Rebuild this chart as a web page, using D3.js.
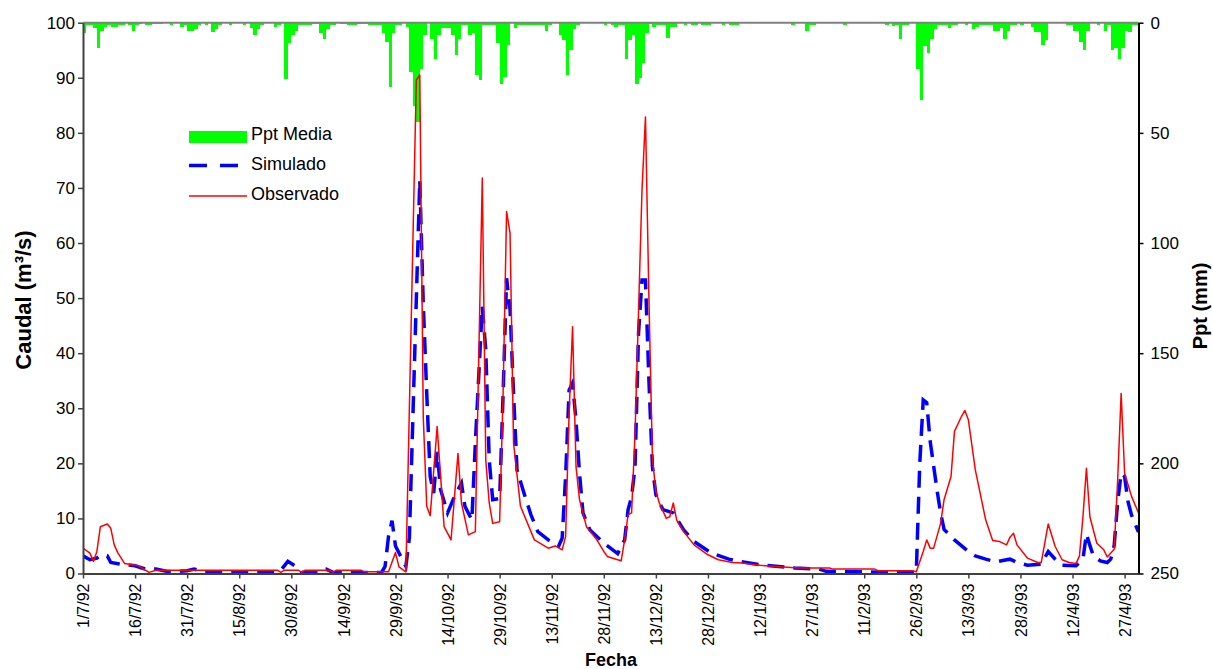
<!DOCTYPE html>
<html>
<head>
<meta charset="utf-8">
<script src="https://cdn.jsdelivr.net/npm/d3@7"></script>
<style>
  body { margin: 0; background: #fff; }
  svg { font-family: Arial, "Liberation Sans", sans-serif; }
</style>
</head>
<body>
<div id="chart"></div>
<script>
// daily series start on 1/7/92, axis runs to 1/5/93
const startDay = "1/7/92";
const endDay = "1/5/93";

// Ppt Media (mm), one value per day from 1/7/92
const pptMedia = [
  4.7, 0.9, 0.9, 2.4, 11.7, 3.9, 2.0, 1.2, 2.1, 2.1,
  0.9, 0.9, 0, 1.2, 3.9, 1.2, 0.6, 0, 1.2, 1.2,
  0.6, 0.6, 0.6, 0, 0, 0.9, 0, 0, 2.1, 0.9,
  3.6, 3.6, 2.7, 1.2, 0, 1.2, 0, 4.2, 2.7, 1.2,
  0, 0, 0.9, 0, 0, 0, 0.9, 0, 2.4, 5.4,
  2.7, 1.2, 0, 0, 0, 2.1, 1.2, 0, 25.5, 9.2,
  5.7, 3.9, 0.9, 0.9, 0.9, 1.2, 0.6, 0.6, 4.7, 7.2,
  2.7, 0.9, 0.9, 0, 0.6, 0.6, 0.9, 0.9, 0.9, 0.6,
  0.6, 0.6, 1.2, 1.2, 1.2, 0.9, 4.7, 8.7, 29, 4.7,
  0.9, 0.9, 0, 2.1, 22.3, 38, 45, 20.8, 5.4, 0,
  7.2, 16.3, 5.4, 2.4, 2.4, 2.4, 5.4, 14.5, 7.2, 1.2,
  1.2, 5.7, 4.7, 23.8, 25.8, 1.2, 0.9, 0.9, 0.9, 9.2,
  27.6, 24.7, 10.2, 0, 2.4, 1.2, 1.2, 0.9, 0.9, 0.9,
  0.9, 0.9, 0.9, 3.9, 1.2, 0, 0, 5.7, 7.7, 23.8,
  12.2, 2.7, 1.2, 0, 0, 0, 0, 0, 0, 0,
  0.9, 0, 0.9, 2.1, 1.2, 1.2, 16.3, 7.7, 5.7, 27.6,
  25.3, 18.2, 4.7, 0.6, 2.1, 1.2, 1.2, 1.2, 6.9, 2.1,
  2.1, 0, 0, 0.9, 0, 0.9, 0.9, 0, 0.9, 0.9,
  0.9, 0, 0, 0, 0.9, 0, 1.2, 1.2, 1.2, 0,
  0, 0, 0, 0, 0, 0, 0, 0, 0, 0,
  0, 0, 0, 0, 0.9, 0, 0, 0, 3.6, 0.9,
  0.9, 0, 0, 0, 0, 0, 0, 0, 0, 0.9,
  0, 0, 0, 0, 0, 0, 0, 0, 0, 0,
  0, 0.9, 0, 1.7, 0.9, 7.2, 0.9, 0.9, 0, 0,
  21.2, 35.2, 10.7, 13.7, 7.2, 2.7, 1.2, 0.9, 0.9, 2.4,
  0.9, 0.9, 0, 0, 0.9, 0, 2.7, 2.1, 1.2, 1.2,
  1.2, 1.2, 3.9, 3.9, 2.4, 7.2, 3.6, 0.9, 0.9, 0,
  0.9, 0, 0, 2.1, 4.2, 4.2, 9.9, 7.7, 0, 0,
  0, 0, 0, 1.2, 1.2, 3.9, 3.9, 8.7, 12.2, 3.9,
  0, 0, 1.2, 0, 3.9, 1.2, 12.2, 11.4, 16.3, 11.4,
  3.6, 4.2, 1.2, 0.9
];

// Simulado (m3/s): day offset from 1/7/92 and value
const simDays = [0, 2, 4, 5, 7, 8, 12, 15, 18, 21, 24, 26, 30, 32, 35, 56, 57, 59, 62, 63, 68, 69, 70, 72, 86,
  87, 88, 89, 90, 92, 93, 94, 97, 98, 99, 100, 101, 102, 103, 105, 107, 109, 110, 112, 113, 115, 116, 117, 118, 120,
  121, 122, 123, 124, 125, 127, 129, 131, 134, 137, 138, 139, 140, 141, 142, 143, 144, 146, 150, 154, 156, 157, 158, 159, 160,
  161, 162, 163, 164, 165, 167, 170, 173, 176, 181, 186, 189, 195, 205, 212, 214, 225, 232, 240, 241, 242, 243, 244, 246, 247,
  248, 251, 255, 257, 260, 263, 266, 267, 269, 272, 276, 278, 280, 282, 286, 288, 289, 290, 291, 293, 295, 296, 297, 298, 299,
  300, 301, 302, 304];
const simValues = [3.2, 2.5, 2.8, 3.3, 3.2, 2.0, 1.6, 1.4, 0.8, 0.8, 0.4, 0.3, 0.5, 0.8, 0.3, 0.3, 0.6, 2.2, 1.0, 0.2, 0.3, 0.8, 0.8, 0.2, 0.2,
  1.3, 6.8, 9.6, 5.0, 2.5, 1.3, 6.5, 71.4, 49, 32.7, 17.6, 14.6, 22.1, 15.2, 11, 14, 16.4, 12.2, 9.7, 23.7, 48.5, 40.6, 20.6, 13.4, 13.6,
  32.7, 53.6, 47.9, 32.7, 18.8, 14.6, 10.7, 7.6, 6.1, 5.0, 6.4, 17.6, 33.3, 34.6, 27.7, 18.2, 11, 7.9, 5.5, 3.6, 6.1, 11.6, 13.9, 19.4, 43.6,
  53.3, 53.3, 35, 19.4, 14.3, 11.6, 11, 7.9, 5.8, 3.7, 2.6, 2.2, 1.6, 1.0, 0.8, 0.4, 0.3, 0.2, 0.2, 20, 31.5, 31, 24, 15, 11,
  8, 6.1, 4.0, 3.2, 2.6, 2.1, 2.5, 2.6, 2.0, 1.5, 1.7, 4.0, 2.6, 1.5, 1.4, 2.6, 7.2, 5.1, 3.2, 2.3, 2.0, 2.6, 5.1, 13, 18.2,
  17.6, 13, 10.6, 7.5];

// Observado (m3/s): day offset from 1/7/92 and value
const obsDays = [0, 2, 3, 4, 5, 7, 8, 9, 10, 12, 16, 19, 21, 56, 57, 58, 62, 63, 64, 71, 72, 73, 80, 81, 88,
  90, 91, 93, 96, 97, 98, 99, 100, 102, 104, 106, 108, 109, 111, 113, 115, 116, 117, 118, 120, 121, 122, 123, 124, 126,
  130, 134, 136, 138, 139, 140, 141, 142, 143, 145, 148, 150, 151, 154, 155, 156, 157, 158, 159, 161, 162, 163, 164, 165, 166,
  168, 169, 170, 171, 173, 176, 180, 183, 187, 190, 195, 206, 215, 216, 228, 229, 239, 240, 242, 243, 244, 245, 247, 248, 250,
  251, 253, 254, 255, 257, 260, 262, 264, 266, 267, 268, 269, 272, 275, 276, 278, 280, 282, 284, 286, 287, 288, 289, 290, 292,
  294, 295, 297, 298, 299, 300, 302, 304];
const obsValues = [4.6, 3.7, 2.2, 4.0, 8.5, 9.0, 8.2, 5.2, 3.8, 1.8, 1.4, 0.2, 0.6, 0.6, 0.2, 0.6, 0.6, 0.2, 0.6, 0.6, 0.2, 0.6, 0.6, 0.3, 0.3,
  3.8, 1.2, 0.3, 89.6, 90.5, 28.5, 12.2, 10.5, 26.7, 8.5, 6.1, 21.8, 12.8, 7.0, 7.6, 71.8, 20.6, 12.8, 9.1, 9.4, 32.8, 65.7, 61.8, 23.7, 12.2,
  6.1, 4.6, 5.0, 4.3, 6.7, 29.1, 44.8, 19.4, 13.4, 8.5, 6.1, 4.0, 3.1, 2.5, 2.3, 6.1, 10.7, 11, 25.5, 69.6, 82.9, 49.7, 20.9, 14.9, 12.8,
  10.0, 10.3, 12.8, 9.7, 7.6, 5.2, 3.4, 2.5, 2.0, 1.9, 1.5, 1.0, 1.0, 0.8, 0.8, 0.5, 0.5, 0.3, 4.0, 6.1, 4.6, 4.6, 9.1, 13.4, 17.6,
  25.8, 28.5, 29.6, 27.9, 18.8, 9.7, 6.0, 5.8, 5.2, 6.6, 7.3, 5.2, 2.8, 2.0, 2.0, 9.0, 4.9, 2.5, 2.0, 1.8, 3.2, 10.3, 19.1, 10.3, 5.5,
  4.3, 3.0, 4.4, 17, 32.7, 18.2, 14, 11];

const tickLabels = ["1/7/92", "16/7/92", "31/7/92", "15/8/92", "30/8/92", "14/9/92", "29/9/92", "14/10/92",
  "29/10/92", "13/11/92", "28/11/92", "13/12/92", "28/12/92", "12/1/93", "27/1/93", "11/2/93", "26/2/93",
  "13/3/93", "28/3/93", "12/4/93", "27/4/93"];
const caudalTicks = d3.range(0, 101, 10);
const pptTicks = d3.range(0, 251, 50);

const parseDay = d3.utcParse("%d/%m/%y");
const start = parseDay(startDay);
const end = parseDay(endDay);
const day = i => d3.utcDay.offset(start, i);

const width = 1213, height = 669;
const plot = { left: 83, right: 1138.5, top: 22.7, bottom: 573.5 };

const svg = d3.select("#chart")
  .append("svg")
  .attr("width", width)
  .attr("height", height);

const x = d3.scaleUtc().domain([start, end]).range([plot.left, plot.right]);
const yQ = d3.scaleLinear().domain([0, 100]).range([plot.bottom, plot.top]);
const yP = d3.scaleLinear().domain([0, 250]).range([plot.top, plot.bottom]);

svg.append("clipPath").attr("id", "clip")
  .append("rect")
  .attr("x", plot.left).attr("y", plot.top)
  .attr("width", plot.right - plot.left).attr("height", plot.bottom - plot.top);

// --- precipitation bars hanging from the top ---
svg.append("g")
  .attr("clip-path", "url(#clip)")
  .selectAll("rect")
  .data(pptMedia.map((v, i) => ({ i, v })).filter(d => d.v > 0))
  .enter()
  .append("rect")
  .attr("x", d => x(day(d.i)))
  .attr("width", d => x(day(d.i + 1)) - x(day(d.i)))
  .attr("y", yP(0))
  .attr("height", d => yP(d.v) - yP(0))
  .attr("fill", "#00ff00")
  .attr("shape-rendering", "crispEdges");

// top baseline of the bars
svg.append("line")
  .attr("x1", plot.left).attr("x2", plot.right)
  .attr("y1", yP(0)).attr("y2", yP(0))
  .attr("stroke", "#808080").attr("stroke-width", 2);

// --- flow lines ---
const line = d3.line()
  .x(d => x(day(d[0])))
  .y(d => yQ(d[1]));

const sim = simDays.map((d, i) => [d, simValues[i]]);
const obs = obsDays.map((d, i) => [d, obsValues[i]]);

const lines = svg.append("g").attr("clip-path", "url(#clip)");
lines.append("path")
  .datum(sim)
  .attr("fill", "none")
  .attr("stroke", "#0000ff")
  .attr("stroke-width", 3.5)
  .attr("stroke-dasharray", "17,9")
  .attr("d", line);

lines.append("path")
  .datum(obs)
  .attr("fill", "none")
  .attr("stroke", "#ff0000")
  .attr("stroke-width", 1.5)
  .attr("stroke-linejoin", "round")
  .attr("d", line);

// --- axes ---
const leftAxis = svg.append("g")
  .attr("transform", `translate(${plot.left},0)`)
  .call(d3.axisLeft(yQ).tickValues(caudalTicks).tickSize(5).tickSizeOuter(0).tickPadding(3));
leftAxis.selectAll("text").attr("font-size", 17).attr("fill", "#000");
leftAxis.selectAll("line").attr("stroke", "#404040").attr("stroke-width", 1.5);
leftAxis.select(".domain").attr("stroke", "#404040").attr("stroke-width", 2);

const rightAxis = svg.append("g")
  .attr("transform", `translate(${plot.right},0)`)
  .call(d3.axisRight(yP).tickValues(pptTicks).tickSize(5).tickSizeOuter(0).tickPadding(7));
rightAxis.selectAll("text").attr("font-size", 17).attr("fill", "#000");
rightAxis.selectAll("line").attr("stroke", "#000").attr("stroke-width", 1.5);
rightAxis.select(".domain").attr("stroke", "#000").attr("stroke-width", 2);

const bottomAxis = svg.append("g")
  .attr("transform", `translate(0,${plot.bottom})`)
  .call(d3.axisBottom(x)
    .tickValues(tickLabels.map(parseDay))
    .tickSize(5).tickSizeOuter(0)
    .tickFormat((d, i) => tickLabels[i]));
bottomAxis.selectAll("text")
  .attr("font-size", 16)
  .attr("fill", "#000")
  .attr("transform", "rotate(-90)")
  .attr("text-anchor", "end")
  .attr("x", -10)
  .attr("y", 0)
  .attr("dy", "0.35em");
bottomAxis.selectAll("line").attr("stroke", "#404040").attr("stroke-width", 1.5);
bottomAxis.select(".domain").attr("stroke", "#404040").attr("stroke-width", 2);

// --- axis titles ---
svg.append("text")
  .attr("transform", "translate(31,300) rotate(-90)")
  .attr("text-anchor", "middle")
  .attr("font-size", 22).attr("font-weight", "bold")
  .text("Caudal (m³/s)");

svg.append("text")
  .attr("transform", "translate(1207,306) rotate(-90)")
  .attr("text-anchor", "middle")
  .attr("font-size", 20).attr("font-weight", "bold")
  .text("Ppt (mm)");

svg.append("text")
  .attr("x", 611).attr("y", 666)
  .attr("text-anchor", "middle")
  .attr("font-size", 18).attr("font-weight", "bold")
  .text("Fecha");

// --- legend ---
const legend = svg.append("g").attr("transform", "translate(189,0)");
legend.append("rect")
  .attr("x", 0).attr("y", 131).attr("width", 58).attr("height", 12)
  .attr("fill", "#00ff00");
legend.append("line")
  .attr("x1", 0).attr("x2", 58).attr("y1", 165.5).attr("y2", 165.5)
  .attr("stroke", "#0000ff").attr("stroke-width", 3.5).attr("stroke-dasharray", "18,13");
legend.append("line")
  .attr("x1", 0).attr("x2", 58).attr("y1", 196).attr("y2", 196)
  .attr("stroke", "#ff0000").attr("stroke-width", 1.5);
legend.selectAll("text.lab")
  .data(["Ppt Media", "Simulado", "Observado"])
  .enter()
  .append("text")
  .attr("class", "lab")
  .attr("x", 62)
  .attr("y", (d, i) => 140 + i * 30)
  .attr("font-size", 18)
  .text(d => d);
</script>
</body>
</html>
